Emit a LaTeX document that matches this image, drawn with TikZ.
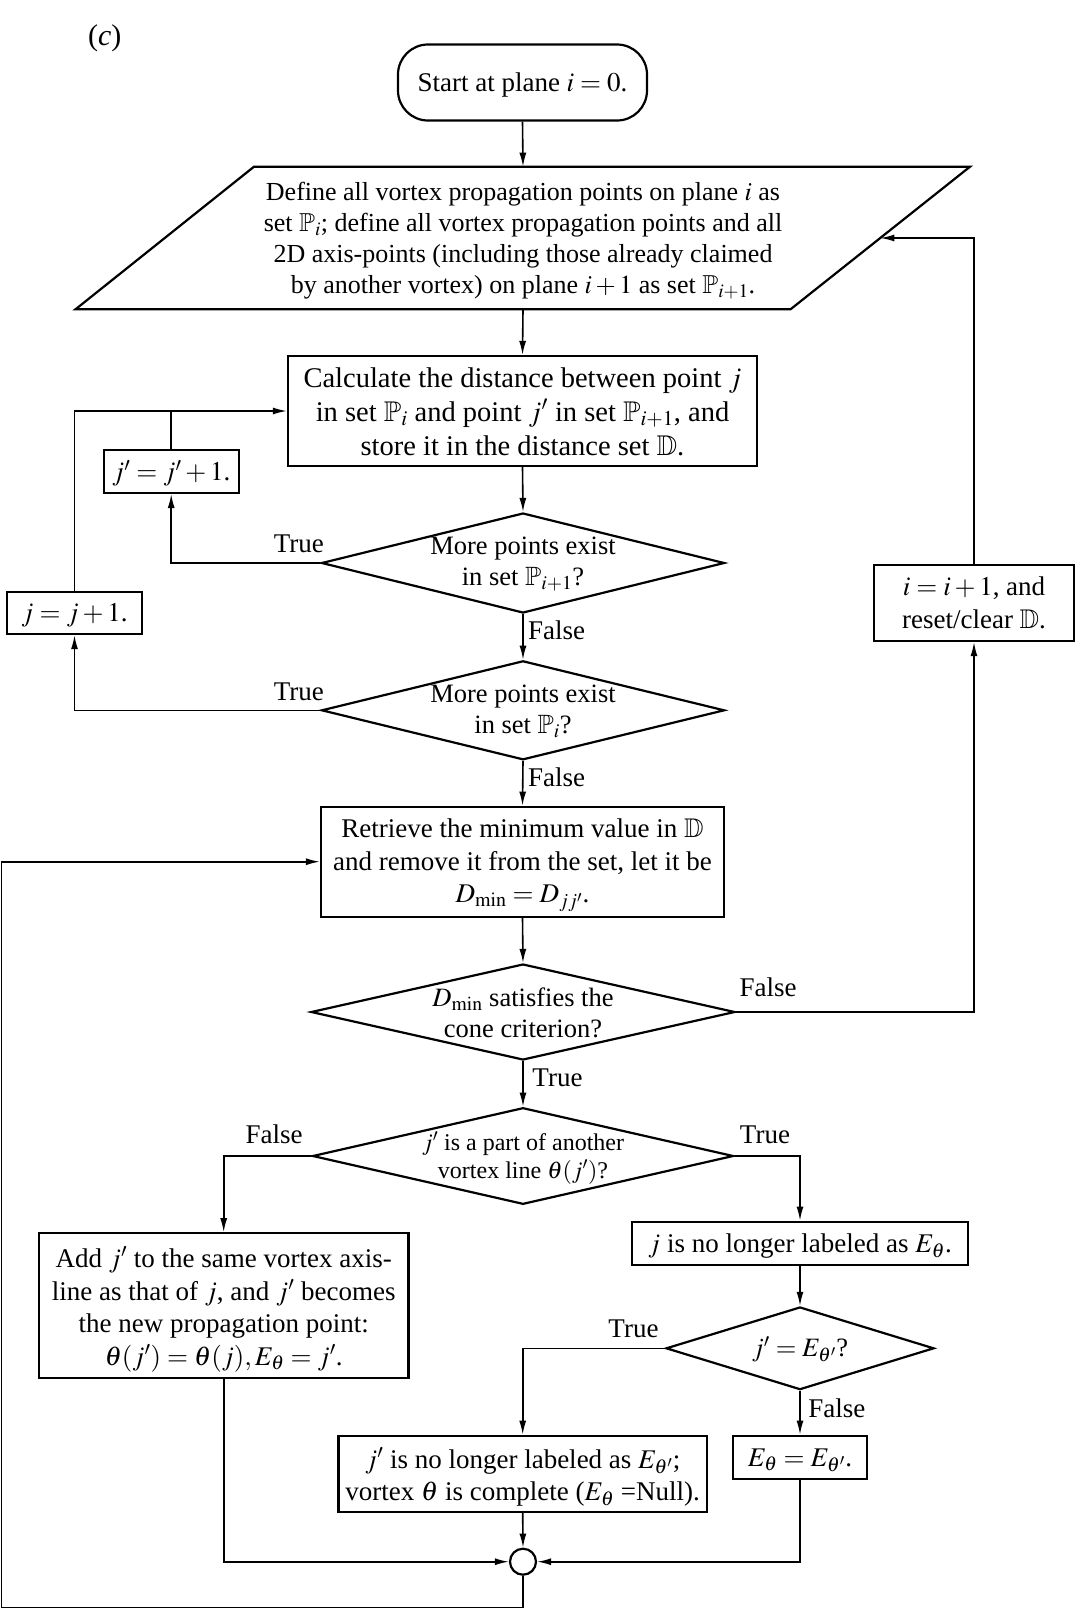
\documentclass[tikz,border=0pt]{standalone}
\usepackage{mathptmx}
\usepackage{amssymb}
\usepackage{fontspec}
\setmainfont{Liberation Serif}
\usetikzlibrary{shapes.geometric,arrows.meta}
\newcommand\fsA{\fontsize{27}{32.5}\selectfont}
\newcommand\fsP{\fontsize{26}{31}\selectfont}
\newcommand\fsC{\fontsize{28.5}{34}\selectfont}
\newcommand\fsD{\fontsize{26.5}{31}\selectfont}
\newcommand\fsE{\fontsize{24}{28}\selectfont}
\tikzset{
  procbox/.style={draw, line width=2.2pt, rectangle, inner sep=0pt},
  dia/.style={draw, line width=2.2pt, diamond, inner sep=0pt},
  txt/.style={align=center, inner sep=0pt, font=\fsA},
  con/.style={line width=1.6pt},
  arr/.style={line width=1.6pt, -{Latex[length=14pt,width=7pt]}},
  lbl/.style={font=\fsA, inner sep=0pt},
}
\begin{document}
\begin{tikzpicture}[x=1pt,y=-1pt]
\useasboundingbox (0,0) rectangle (1076,1610);
\fill[white] (0,0) rectangle (1076,1610);

\node[inner sep=0pt, font=\fontsize{30}{36}\selectfont] (lab) at (104.7,38.5) {(\textit{c})};

% start
\node[procbox, rounded corners=30pt, minimum width=249pt, minimum height=76pt] (start) at (522.5,82.5) {};
\node[txt] (startt) at (522.5,85.5) {Start at plane $i=0$.};

% parallelogram
\coordinate (ptl) at (254,166.7);
\coordinate (ptr) at (970,166.7);
\coordinate (pbr) at (790.5,309.3);
\coordinate (pbl) at (75.5,309.3);
\draw[line width=2.2pt] (ptl) -- (ptr) -- (pbr) -- (pbl) -- cycle;
\coordinate (pn) at (523,166.7);
\coordinate (ps) at (523,309.3);
\coordinate (pe) at (880.3,238);
\node[txt, font=\fsP] (para) at (523,241) {Define all vortex propagation points on plane $i$ as\\
set $\mathbb{P}_i$; define all vortex propagation points and all\\
2D axis-points (including those already claimed\\
by another vortex) on plane $i+1$ as set $\mathbb{P}_{i+1}$.};

% calculate
\node[procbox, minimum width=469pt, minimum height=110pt] (calc) at (522.5,411) {};
\node[txt, font=\fsC] (calct) at (522.5,411.5) {Calculate the distance between point $j$\\
in set $\mathbb{P}_i$ and point $j'$ in set $\mathbb{P}_{i+1}$, and\\
store it in the distance set $\mathbb{D}$.};

\node[procbox, minimum width=135pt, minimum height=43pt] (jp) at (171.2,471.4) {};
\node[txt] (jpt) at (171.2,473.4) {$j'=j'+1$.};
\node[procbox, minimum width=135pt, minimum height=42pt] (jb) at (74.5,613) {};
\node[txt] (jbt) at (74.5,615) {$j=j+1$.};

\node[dia, minimum width=403pt, minimum height=100pt] (d1) at (523,563) {};
\node[txt, font=\fsD] (d1t) at (523,564.5) {More points exist\\ in set $\mathbb{P}_{i+1}$?};

\node[dia, minimum width=403pt, minimum height=99pt] (d2) at (523,710.3) {};
\node[txt, font=\fsD] (d2t) at (523,711.5) {More points exist\\ in set $\mathbb{P}_{i}$?};

\node[procbox, minimum width=200pt, minimum height=76pt] (ib) at (974,603) {};
\node[txt] (ibt) at (974,603) {$i=i+1$, and\\ reset/clear $\mathbb{D}$.};

\node[procbox, minimum width=403pt, minimum height=110pt] (ret) at (522.5,861.7) {};
\node[txt] (rett) at (522.5,865.5) {Retrieve the minimum value in $\mathbb{D}$\\
and remove it from the set, let it be\\
$D_{\min}=D_{jj'}$.};

\node[dia, minimum width=424pt, minimum height=96pt] (d3) at (523,1012) {};
\node[txt, font=\fsD] (d3t) at (523,1013) {$D_{\min}$ satisfies the\\ cone criterion?};

\node[dia, minimum width=421pt, minimum height=96.6pt] (d4) at (523,1156) {};
\node[txt, font=\fsE] (d4t) at (523,1158) {$j'$ is a part of another\\ vortex line $\theta(j')$?};

\node[procbox, minimum width=369.4pt, minimum height=144.4pt] (add) at (223.7,1305.5) {};
\node[txt] (addt) at (223.7,1309.5) {Add $j'$ to the same vortex axis-\\
line as that of $j$, and $j'$ becomes\\
the new propagation point:\\
$\theta(j')=\theta(j), E_\theta=j'$.};

\node[procbox, minimum width=335.7pt, minimum height=43.3pt] (jno) at (800,1243.4) {};
\node[txt] (jnot) at (800,1246.4) {$j$ is no longer labeled as $E_\theta$.};

\node[dia, minimum width=268pt, minimum height=82.7pt] (d5) at (800,1348.3) {};
\node[txt, font=\fsD] (d5t) at (800,1349.3) {$j'=E_{\theta'}$?};

\node[procbox, minimum width=368.6pt, minimum height=76.3pt] (jpno) at (522.7,1473.9) {};
\node[txt] (jpnot) at (522.7,1477) {$j'$ is no longer labeled as $E_{\theta'}$;\\
vortex $\theta$ is complete ($E_\theta$ =Null).};

\node[procbox, minimum width=133.8pt, minimum height=43.3pt] (eb) at (800,1457.4) {};
\node[txt] (ebt) at (800,1460.4) {$E_\theta=E_{\theta'}$.};

\node[draw, circle, line width=2.2pt, minimum size=26pt, inner sep=0pt] (circ) at (523,1561.7) {};

% labels
\node[lbl] (l1) at (298.8,544) {True};
\node[lbl] (l2) at (556.5,630.4) {False};
\node[lbl] (l3) at (298.8,692) {True};
\node[lbl] (l4) at (556.5,777) {False};
\node[lbl] (l5) at (768,987.7) {False};
\node[lbl] (l6) at (557.5,1078) {True};
\node[lbl] (l7) at (274,1134.5) {False};
\node[lbl] (l8) at (765,1134.5) {True};
\node[lbl] (l9) at (633.5,1328.5) {True};
\node[lbl] (l10) at (836.8,1408.6) {False};

% connectors
\draw[arr] (start.south) -- (pn);
\draw[arr] (ps) -- (calc.north);
\draw[arr] (calc.south) -- (d1.north);
\draw[arr] (d1.west) -| (jp.south);
\draw[con] (jp.north) -- (jp.north |- calc.west);
\draw[arr] (jb.north) |- (calc.west);
\draw[arr] (d1.south) -- (d2.north);
\draw[arr] (d2.west) -| (jb.south);
\draw[arr] (d2.south) -- (ret.north);
\draw[arr] (ret.south) -- (d3.north);
\draw[arr] (d3.east) -| (ib.south);
\draw[arr] (ib.north) |- (pe);
\draw[arr] (d3.south) -- (d4.north);
\draw[arr] (d4.west) -| (add.north);
\draw[arr] (d4.east) -| (jno.north);
\draw[arr] (jno.south) -- (d5.north);
\draw[arr] (d5.west) -| (jpno.north);
\draw[arr] (d5.south) -- (eb.north);
\draw[arr] (add.south) |- (circ.west);
\draw[arr] (eb.south) |- (circ.east);
\draw[arr] (jpno.south) -- (circ.north);
\coordinate (loopA) at (523,1607.3);
\coordinate (loopB) at (1.5,1607.3);
\draw[arr] (circ.south) -- (loopA) -- (loopB) |- (ret.west);
\end{tikzpicture}
\end{document}
